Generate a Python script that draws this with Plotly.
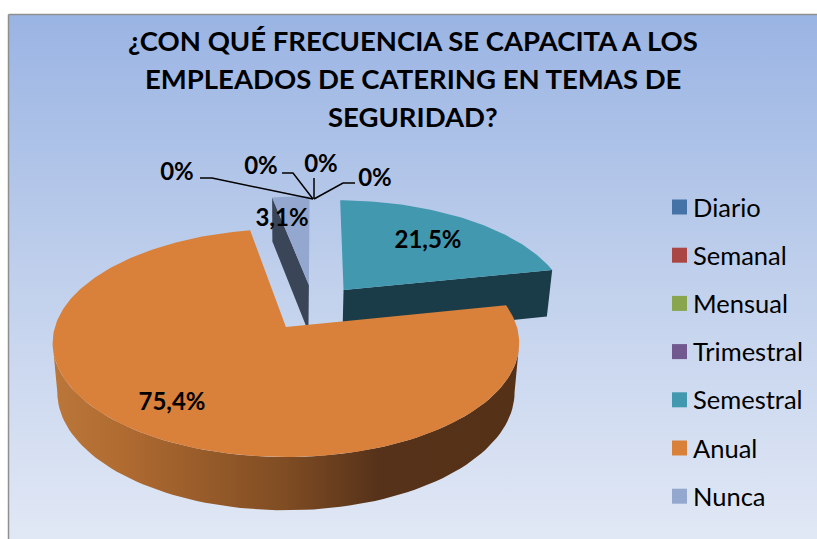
import math
import plotly.graph_objects as go

# Datos del grafico ----------
categorias = ["Diario", "Semanal", "Mensual", "Trimestral", "Semestral", "Anual", "Nunca"]
valores = [0, 0, 0, 0, 21.5, 75.4, 3.1]
colores = ["#4573a7", "#aa4744", "#89a54e", "#71588f", "#4198af", "#d9803a", "#94a8cf"]
colores_pared = {"Semestral": "#1a3c49", "Nunca": "#3a4558"}
titulo = ["¿CON QUÉ FRECUENCIA SE CAPACITA A LOS",
          "EMPLEADOS DE CATERING EN TEMAS DE",
          "SEGURIDAD?"]

FUENTE = "Lato"
ANCHO, ALTO = 817, 539

# Proyeccion del pie en perspectiva (en pixeles de la figura)
ORIGEN_X, ORIGEN_Y = 286, 327
ESCALA_X, ESCALA_Y = 231, 111.8
PERSP = 0.14
ANGULO_INICIO = 1
EXPLOSION = 0.218
CENTRO = (0.122, -0.18)

# Posicion de las etiquetas de datos, en el orden de las categorias
pos_etiquetas = [(177, 173.5), (261, 167.5), (321, 165.5), (375, 179.5), (428, 241.5), (172, 403.5), (282, 219.5)]
# Lineas guia de las etiquetas de 0%
guias = [[(200, 178), (212, 178), (313, 199)],
         [(282, 173), (293, 173), (313, 199)],
         [(314, 178), (314, 199)],
         [(355, 183), (343, 183), (314, 199)]]


def proyectar(u, v, fondo=False):
    # Pasa un punto del disco a pixeles; fondo=True da la cara inferior del pie
    w = 1 - PERSP * v
    x = ESCALA_X * u / w
    y = ESCALA_Y * v / w
    if fondo:
        return ORIGEN_X + x * 0.98, ORIGEN_Y + y * 1.036 + 48.5
    return ORIGEN_X + x, ORIGEN_Y + y


def punto_arco(cx, cy, grados, radio=1.0):
    a = math.radians(grados)
    return cx + radio * math.sin(a), cy - radio * math.cos(a)


def poligono(puntos, **kwargs):
    xs = [p[0] for p in puntos] + [puntos[0][0]]
    ys = [p[1] for p in puntos] + [puntos[0][1]]
    return go.Scatter(x=xs, y=ys, mode="lines", fill="toself", line=dict(width=0),
                      hoverinfo="skip", showlegend=False, **kwargs)


def etiqueta(valor):
    if valor == 0:
        return "0%"
    return f"{valor:.1f}".replace(".", ",") + "%"


fig = go.Figure()

# Fondo con degradado
fig.add_trace(poligono([(9, 15), (ANCHO, 15), (ANCHO, ALTO), (9, ALTO)],
                       fillgradient=dict(type="vertical", start=15, stop=ALTO,
                                         colorscale=[[0, "#9ab4e3"], [0.5, "#c0d0ec"], [1, "#e1e8f5"]])))

# Calcular los sectores a partir de los valores
total = sum(valores)
acumulado = ANGULO_INICIO
sectores = {}
for nombre, valor, color in zip(categorias, valores, colores):
    ini = acumulado
    fin = acumulado + valor / total * 360
    acumulado = fin
    if valor == 0:
        continue
    medio = (ini + fin) / 2
    cx, cy = punto_arco(CENTRO[0], CENTRO[1], medio, EXPLOSION)
    sectores[nombre] = dict(ini=ini, fin=fin, cx=cx, cy=cy, color=color)


def cara_superior(s):
    n = max(int(s["fin"] - s["ini"]), 2)
    arco = [punto_arco(s["cx"], s["cy"], s["ini"] + (s["fin"] - s["ini"]) * i / n) for i in range(n + 1)]
    return [proyectar(s["cx"], s["cy"])] + [proyectar(u, v) for u, v in arco]


# Nunca: pared radial izquierda y cara superior
s = sectores["Nunca"]
borde = punto_arco(s["cx"], s["cy"], s["ini"])
fig.add_trace(poligono([proyectar(s["cx"], s["cy"]), proyectar(*borde),
                        proyectar(*borde, fondo=True), proyectar(s["cx"], s["cy"], fondo=True)],
                       fillcolor=colores_pared["Nunca"]))
fig.add_trace(poligono(cara_superior(s), fillcolor=s["color"]))

# Semestral: pared radial derecha y cara superior
s = sectores["Semestral"]
borde = punto_arco(s["cx"], s["cy"], s["fin"])
fig.add_trace(poligono([proyectar(s["cx"], s["cy"]), proyectar(*borde),
                        proyectar(*borde, fondo=True), proyectar(s["cx"], s["cy"], fondo=True)],
                       fillcolor=colores_pared["Semestral"]))
fig.add_trace(poligono(cara_superior(s), fillcolor=s["color"]))

# Anual: pared curva con degradado (entre los puntos mas anchos) y cara superior
s = sectores["Anual"]
arco = [punto_arco(s["cx"], s["cy"], g) for g in range(98, 263, 2)]
pared = [proyectar(u, v) for u, v in arco] + [proyectar(u, v, fondo=True) for u, v in reversed(arco)]
fig.add_trace(poligono(pared, fillgradient=dict(type="horizontal", start=52, stop=519,
                                                colorscale=[[0, "#bb763a"], [0.15, "#b06b31"],
                                                            [0.5, "#7f4c23"], [0.7, "#56321a"],
                                                            [1, "#553117"]])))
fig.add_trace(poligono(cara_superior(s), fillcolor=s["color"]))

# Lineas guia
for guia in guias:
    fig.add_trace(go.Scatter(x=[p[0] for p in guia], y=[p[1] for p in guia], mode="lines",
                             line=dict(color="black", width=1.5), hoverinfo="skip", showlegend=False))

# Etiquetas de datos
fig.add_trace(go.Scatter(x=[p[0] for p in pos_etiquetas], y=[p[1] for p in pos_etiquetas], mode="text",
                         text=["<b>" + etiqueta(v) + "</b>" for v in valores], textposition="middle center",
                         textfont=dict(family=FUENTE, size=24, color="black"),
                         hoverinfo="skip", showlegend=False))

# Leyenda dibujada a mano para respetar la separacion del original
for i, (nombre, color) in enumerate(zip(categorias, colores)):
    y_fila = 207 + 48.2 * i
    fig.add_trace(go.Scatter(x=[679.5], y=[y_fila], mode="markers", name=nombre,
                             marker=dict(symbol="square", size=15, color=color),
                             showlegend=False, hovertemplate=nombre + "<extra></extra>"))
    fig.add_annotation(x=691, y=y_fila - 0.5, text=nombre, showarrow=False, xanchor="left", yanchor="middle",
                       font=dict(family=FUENTE, size=25.5, color="black"))

# Titulo, una anotacion por linea para controlar el interlineado
for i, linea in enumerate(titulo):
    fig.add_annotation(x=413, y=40 + 38 * i, text="<b>" + linea + "</b>", showarrow=False,
                       font=dict(family=FUENTE, size=27.5, color="black"))

# Marco gris superior e izquierdo
fig.add_shape(type="line", x0=8.5, y0=14.5, x1=ANCHO, y1=14.5, line=dict(color="#8f8f8f", width=1.5))
fig.add_shape(type="line", x0=8.5, y0=14.5, x1=8.5, y1=ALTO, line=dict(color="#8f8f8f", width=1.5))

fig.update_layout(width=ANCHO, height=ALTO, margin=dict(l=0, r=0, t=0, b=0),
                  paper_bgcolor="white", plot_bgcolor="white", showlegend=False,
                  xaxis=dict(range=[0, ANCHO], visible=False, fixedrange=True),
                  yaxis=dict(range=[ALTO, 0], visible=False, fixedrange=True))

fig.write_html("out.html", config=dict(displayModeBar=False),
               post_script="document.body.style.margin='0';document.body.style.overflow='hidden';")
